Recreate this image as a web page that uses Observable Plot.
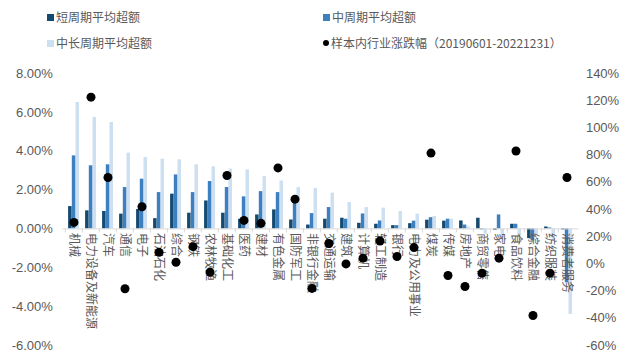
<!DOCTYPE html>
<html><head><meta charset="utf-8">
<script src="https://cdn.jsdelivr.net/npm/d3@7"></script>
<script src="https://cdn.jsdelivr.net/npm/@observablehq/plot@0.6"></script>
<style>
body{margin:0;background:#fff;font-family:"Liberation Sans","Noto Sans CJK SC",sans-serif;}
#wrap{position:relative;width:627px;height:357px;overflow:hidden;background:#fff}
#legend{position:absolute;left:0;top:0;width:627px;height:60px;font-size:12px;color:#595959;font-family:"Noto Sans CJK SC","Liberation Sans",sans-serif}
.item{position:absolute;display:flex;align-items:center;white-space:nowrap;height:14px;line-height:14px}
.sw{width:7px;height:7px;margin-right:2px;flex:none}
.dotm{width:6px;height:6px;border-radius:50%;background:#000;margin-right:2px;flex:none}
#chart{position:absolute;left:0;top:60px}
</style></head><body>
<div id="wrap"><div id="legend"></div><div id="chart"></div></div>
<script>
const categories = ["机械","电力设备及新能源","汽车","通信","电子","石油石化","综合","钢铁","农林牧渔","基础化工","医药","建材","有色金属","国防军工","非银行金融","交通运输","建筑","计算机","轻工制造","银行","电力及公用事业","煤炭","传媒","房地产","商贸零售","家电","食品饮料","综合金融","纺织服装","消费者服务"];
const shortExcess = [1.15,0.93,0.90,0.76,1.00,0.53,1.79,0.81,1.44,0.81,0.50,0.72,0.98,0.46,0.20,0.50,0.55,0.29,0.24,0.17,0.27,0.45,0.40,0.41,0.55,-0.07,0.24,-0.50,0.10,-0.05];
const midExcess = [3.76,3.25,3.30,2.13,2.56,1.87,2.78,1.87,2.44,2.13,1.65,1.92,1.87,1.44,0.79,1.10,0.50,0.77,0.41,0.17,0.40,0.58,0.50,0.20,-0.05,0.72,0.24,-0.62,0.05,-2.77];
const longExcess = [6.51,5.74,5.48,3.90,3.68,3.59,3.56,3.30,3.20,3.08,3.04,2.70,2.47,2.13,2.08,1.84,1.36,1.10,1.07,0.90,0.76,0.64,0.50,0.10,-0.27,-0.45,-0.36,-0.35,-0.55,-4.40];
const industryReturn = [30.5,122.6,63.5,-18.3,42,8.5,1.2,12.7,-6,65,32,29.8,70.6,47.6,-18,15,0,4.2,16.8,5.4,12,81.5,-8.5,-16.6,-6.8,4.2,83,-37.9,-6.8,63.5];
const leftTicks = [-6,-4,-2,0,2,4,6,8];
const rightTicks = [-60,-40,-20,0,20,40,60,80,100,120,140];
const seriesNames = ["短周期平均超额","中周期平均超额","中长周期平均超额","样本内行业涨跌幅（20190601-20221231）"];

const cDark = "#134a70", cMid = "#3e7fc0", cLight = "#cce0f2", cText = "#595959";
// secondary axis mapping: right [-60,140] aligned with left [-6,8]
const toLeft = r => (r + 60) * 14 / 200 - 6;
const toRight = l => (l + 6) * 200 / 14 - 60;

const rows = categories.map((c, i) => ({cat: c, s: shortExcess[i], m: midExcess[i], l: longExcess[i], r: industryReturn[i]}));

// legend
const legend = document.getElementById("legend");
const legendItems = [
  {name: seriesNames[0], color: cDark, x: 47, y: 10, dot: false},
  {name: seriesNames[1], color: cMid, x: 323, y: 10, dot: false},
  {name: seriesNames[2], color: cLight, x: 47, y: 36, dot: false},
  {name: seriesNames[3], color: "#000", x: 323, y: 36, dot: true}
];
for (const it of legendItems) {
  const d = document.createElement("div");
  d.className = "item";
  d.style.left = it.x + "px"; d.style.top = it.y + "px";
  const m = document.createElement("span");
  if (it.dot) m.className = "dotm"; else { m.className = "sw"; m.style.background = it.color; }
  d.appendChild(m);
  const t = document.createElement("span"); t.textContent = it.name; d.appendChild(t);
  legend.appendChild(d);
}

const plot = Plot.plot({
  width: 627, height: 297,
  marginLeft: 62.4, marginRight: 48.6, marginTop: 13, marginBottom: 12,
  style: {fontFamily: "'Liberation Sans','Noto Sans CJK SC',sans-serif", fontSize: "13px", color: cText, background: "white", overflow: "visible"},
  x: {domain: categories, padding: 0, axis: null},
  y: {domain: [-6, 8], axis: null},
  marks: [
    Plot.axisY({ticks: leftTicks, tickFormat: d => d.toFixed(2) + "%", tickSize: 0, tickPadding: 10, anchor: "left", fill: cText, fontSize: 13}),
    Plot.axisY({ticks: rightTicks.map(toLeft), tickFormat: d => Math.round(toRight(d)) + "%", tickSize: 0, tickPadding: 7, anchor: "right", fill: cText, fontSize: 13}),
    Plot.barY(rows, {x: "cat", y: "l", fill: cLight, insetLeft: 10.5, insetRight: 3}),
    Plot.barY(rows, {x: "cat", y: "m", fill: cMid, insetLeft: 6.8, insetRight: 6.7}),
    Plot.barY(rows, {x: "cat", y: "s", fill: cDark, insetLeft: 3.1, insetRight: 10.4}),
    Plot.ruleY([0], {stroke: "#d9d9d9", strokeWidth: 1}),
    Plot.ruleX(categories, {x: d => d, y1: 0, y2: 0, dx: -8.6, insetBottom: -4, stroke: "#d9d9d9"}),
    Plot.text(rows, {x: "cat", y: 0, text: "cat", rotate: 90, textAnchor: "start", dy: 4, fontSize: 12, fill: cText}),
    Plot.dot(rows, {x: "cat", y: d => toLeft(d.r), r: 4.5, fill: "#000", stroke: "none"})
  ]
});
document.getElementById("chart").appendChild(plot);
</script>
</body></html>
